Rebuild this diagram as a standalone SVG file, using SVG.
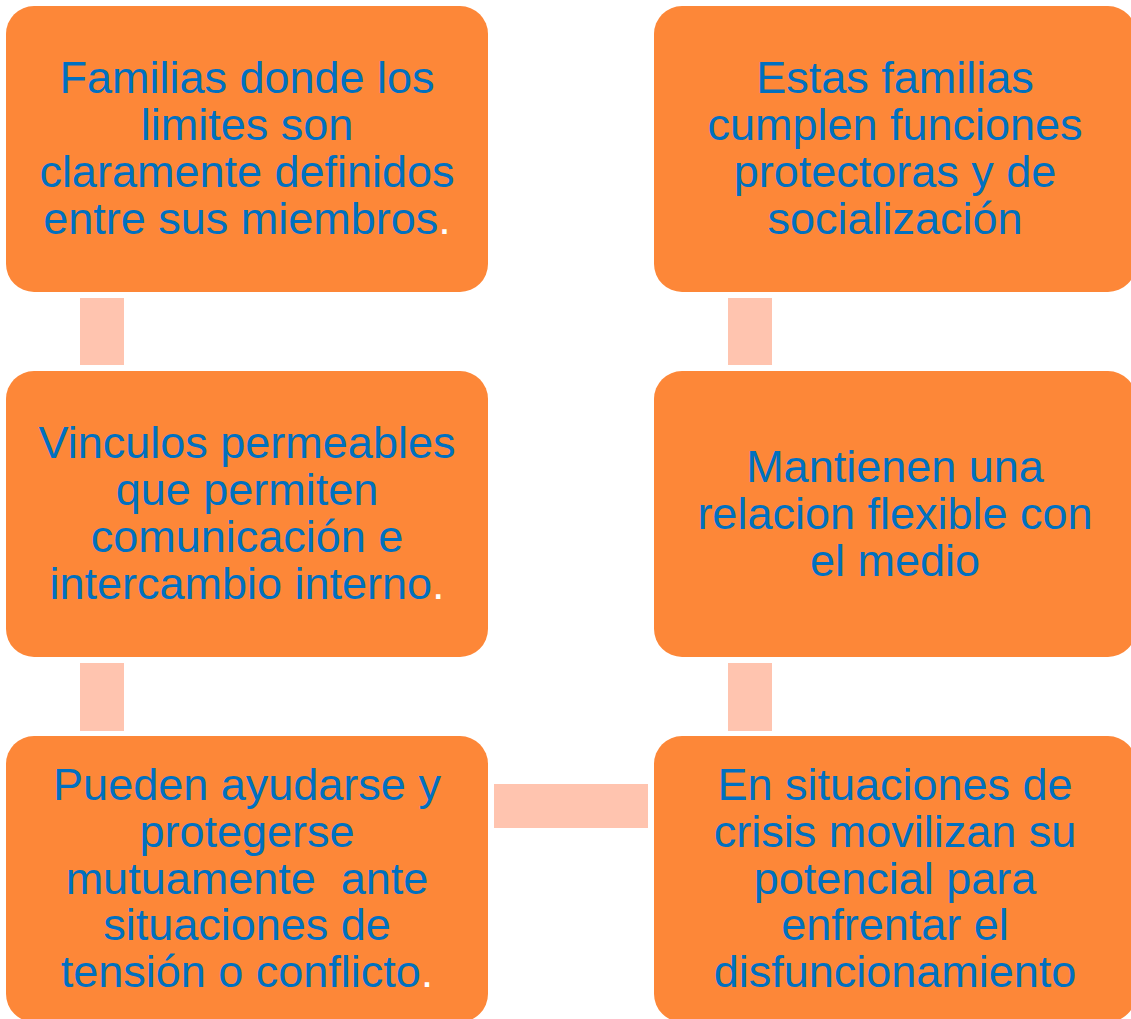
<svg xmlns="http://www.w3.org/2000/svg" width="1131" height="1019" viewBox="0 0 1131 1019">
<style>
.box{fill:#FD8738;}
.conn{fill:#FFC4AF;}
.t{font-family:"Liberation Sans",Arial,sans-serif;font-size:45px;fill:#0070C0;text-anchor:middle;white-space:pre;}
.w{fill:#FFFFFF;}
</style>
<rect width="1131" height="1019" fill="#FFFFFF"/>
<g id="connectors">
<rect class="conn" x="80" y="298" width="44" height="67"/>
<rect class="conn" x="80" y="663" width="44" height="68"/>
<rect class="conn" x="728" y="298" width="44" height="67"/>
<rect class="conn" x="728" y="663" width="44" height="68"/>
<rect class="conn" x="494" y="784" width="154" height="44"/>
</g>
<g id="node1">
<rect class="box" x="6" y="6" width="482" height="286" rx="28"/>
<text class="t"><tspan x="247" y="93">Familias donde los</tspan><tspan x="247" y="140">limites son</tspan><tspan x="247" y="187">claramente definidos</tspan><tspan x="247" y="234">entre sus miembros<tspan class="w">.</tspan></tspan></text>
</g>
<g id="node2">
<rect class="box" x="6" y="371" width="482" height="286" rx="28"/>
<text class="t"><tspan x="247" y="458">Vinculos permeables</tspan><tspan x="247" y="505">que permiten</tspan><tspan x="247" y="552">comunicación e</tspan><tspan x="247" y="599">intercambio interno<tspan class="w">.</tspan></tspan></text>
</g>
<g id="node3">
<rect class="box" x="6" y="736" width="482" height="286" rx="28"/>
<text class="t"><tspan x="247" y="800">Pueden ayudarse y</tspan><tspan x="247" y="847">protegerse</tspan><tspan x="247" y="893.5">mutuamente  ante</tspan><tspan x="247" y="940">situaciones de</tspan><tspan x="247" y="987">tensión o conflicto<tspan class="w">.</tspan></tspan></text>
</g>
<g id="node4">
<rect class="box" x="654" y="6" width="482" height="286" rx="28"/>
<text class="t"><tspan x="895" y="93">Estas familias</tspan><tspan x="895" y="140">cumplen funciones</tspan><tspan x="895" y="187">protectoras y de</tspan><tspan x="895" y="234">socialización</tspan></text>
</g>
<g id="node5">
<rect class="box" x="654" y="371" width="482" height="286" rx="28"/>
<text class="t"><tspan x="895" y="482">Mantienen una</tspan><tspan x="895" y="529">relacion flexible con</tspan><tspan x="895" y="576">el medio</tspan></text>
</g>
<g id="node6">
<rect class="box" x="654" y="736" width="482" height="286" rx="28"/>
<text class="t"><tspan x="895" y="800">En situaciones de</tspan><tspan x="895" y="847">crisis movilizan su</tspan><tspan x="895" y="893.5">potencial para</tspan><tspan x="895" y="940">enfrentar el</tspan><tspan x="895" y="987">disfuncionamiento</tspan></text>
</g>
</svg>
